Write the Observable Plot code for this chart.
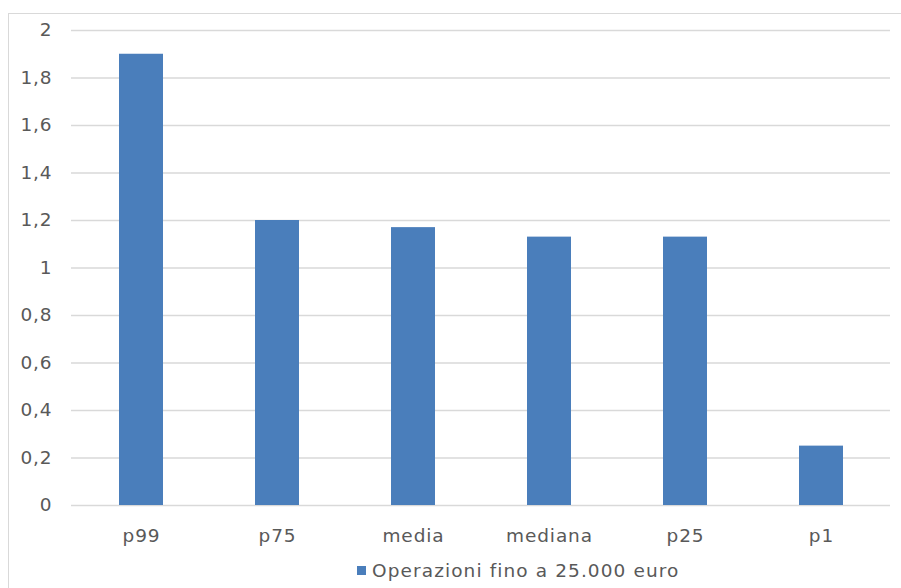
<!DOCTYPE html>
<html>
<head>
<meta charset="utf-8">
<script src="https://cdn.jsdelivr.net/npm/d3@7"></script>
<script src="https://cdn.jsdelivr.net/npm/@observablehq/plot@0.6"></script>
<style>
  html, body { margin: 0; padding: 0; background: #fff; overflow: hidden; width: 901px; height: 588px; }
  #wrap { position: relative; width: 901px; height: 588px; }
  #frame { position: absolute; left: 8px; top: 13px; width: 1000px; height: 1000px; border: 1px solid #d9d9d9; pointer-events: none; }
  #chart { position: absolute; left: 0; top: 0; }
  #legend { position: absolute; left: 357px; top: 560px; display: flex; align-items: center;
    font-family: "DejaVu Sans", sans-serif; font-size: 18.5px; letter-spacing: 1.1px; color: #595959; white-space: nowrap; }
  #legend .sw { width: 9px; height: 9px; background: #4a7ebb; margin-right: 6px; }
  svg text { letter-spacing: 0.9px; }
</style>
</head>
<body>
<div id="wrap">
  <div id="chart"></div>
  <div id="frame"></div>
  <div id="legend"><span class="sw"></span><span id="legendText"></span></div>
</div>
<script>
const categories = ["p99", "p75", "media", "mediana", "p25", "p1"];
const values = [1.9, 1.2, 1.17, 1.13, 1.13, 0.25];
const yTicks = [0, 0.2, 0.4, 0.6, 0.8, 1, 1.2, 1.4, 1.6, 1.8, 2];
const seriesName = "Operazioni fino a 25.000 euro";

const data = categories.map((c, i) => ({category: c, value: values[i]}));
const fmt = v => String(Math.round(v * 10) / 10).replace(".", ",");

const chart = Plot.plot({
  width: 901,
  height: 548,
  marginLeft: 71,
  marginRight: 11,
  marginTop: 30,
  marginBottom: 43,
  style: {fontFamily: "DejaVu Sans, sans-serif", fontSize: "18.5px", color: "#595959", background: "transparent"},
  x: {domain: categories, paddingInner: 0.68, paddingOuter: 0.34, label: null, tickSize: 0, tickPadding: 23},
  y: {domain: [0, 2], ticks: yTicks, tickFormat: fmt, label: null, tickSize: 0, tickPadding: 19},
  marks: [
    Plot.gridY(yTicks, {stroke: "#d9d9d9", strokeOpacity: 1, strokeWidth: 1.5}),
    Plot.barY(data, {x: "category", y: "value", fill: "#4a7ebb"}),
    Plot.axisX({tickSize: 0, tickPadding: 23, fill: "#595959"}),
    Plot.axisY({ticks: yTicks, tickFormat: fmt, tickSize: 0, tickPadding: 19, fill: "#595959"})
  ]
});
document.getElementById("chart").appendChild(chart);
document.getElementById("legendText").textContent = seriesName;
</script>
</body>
</html>
